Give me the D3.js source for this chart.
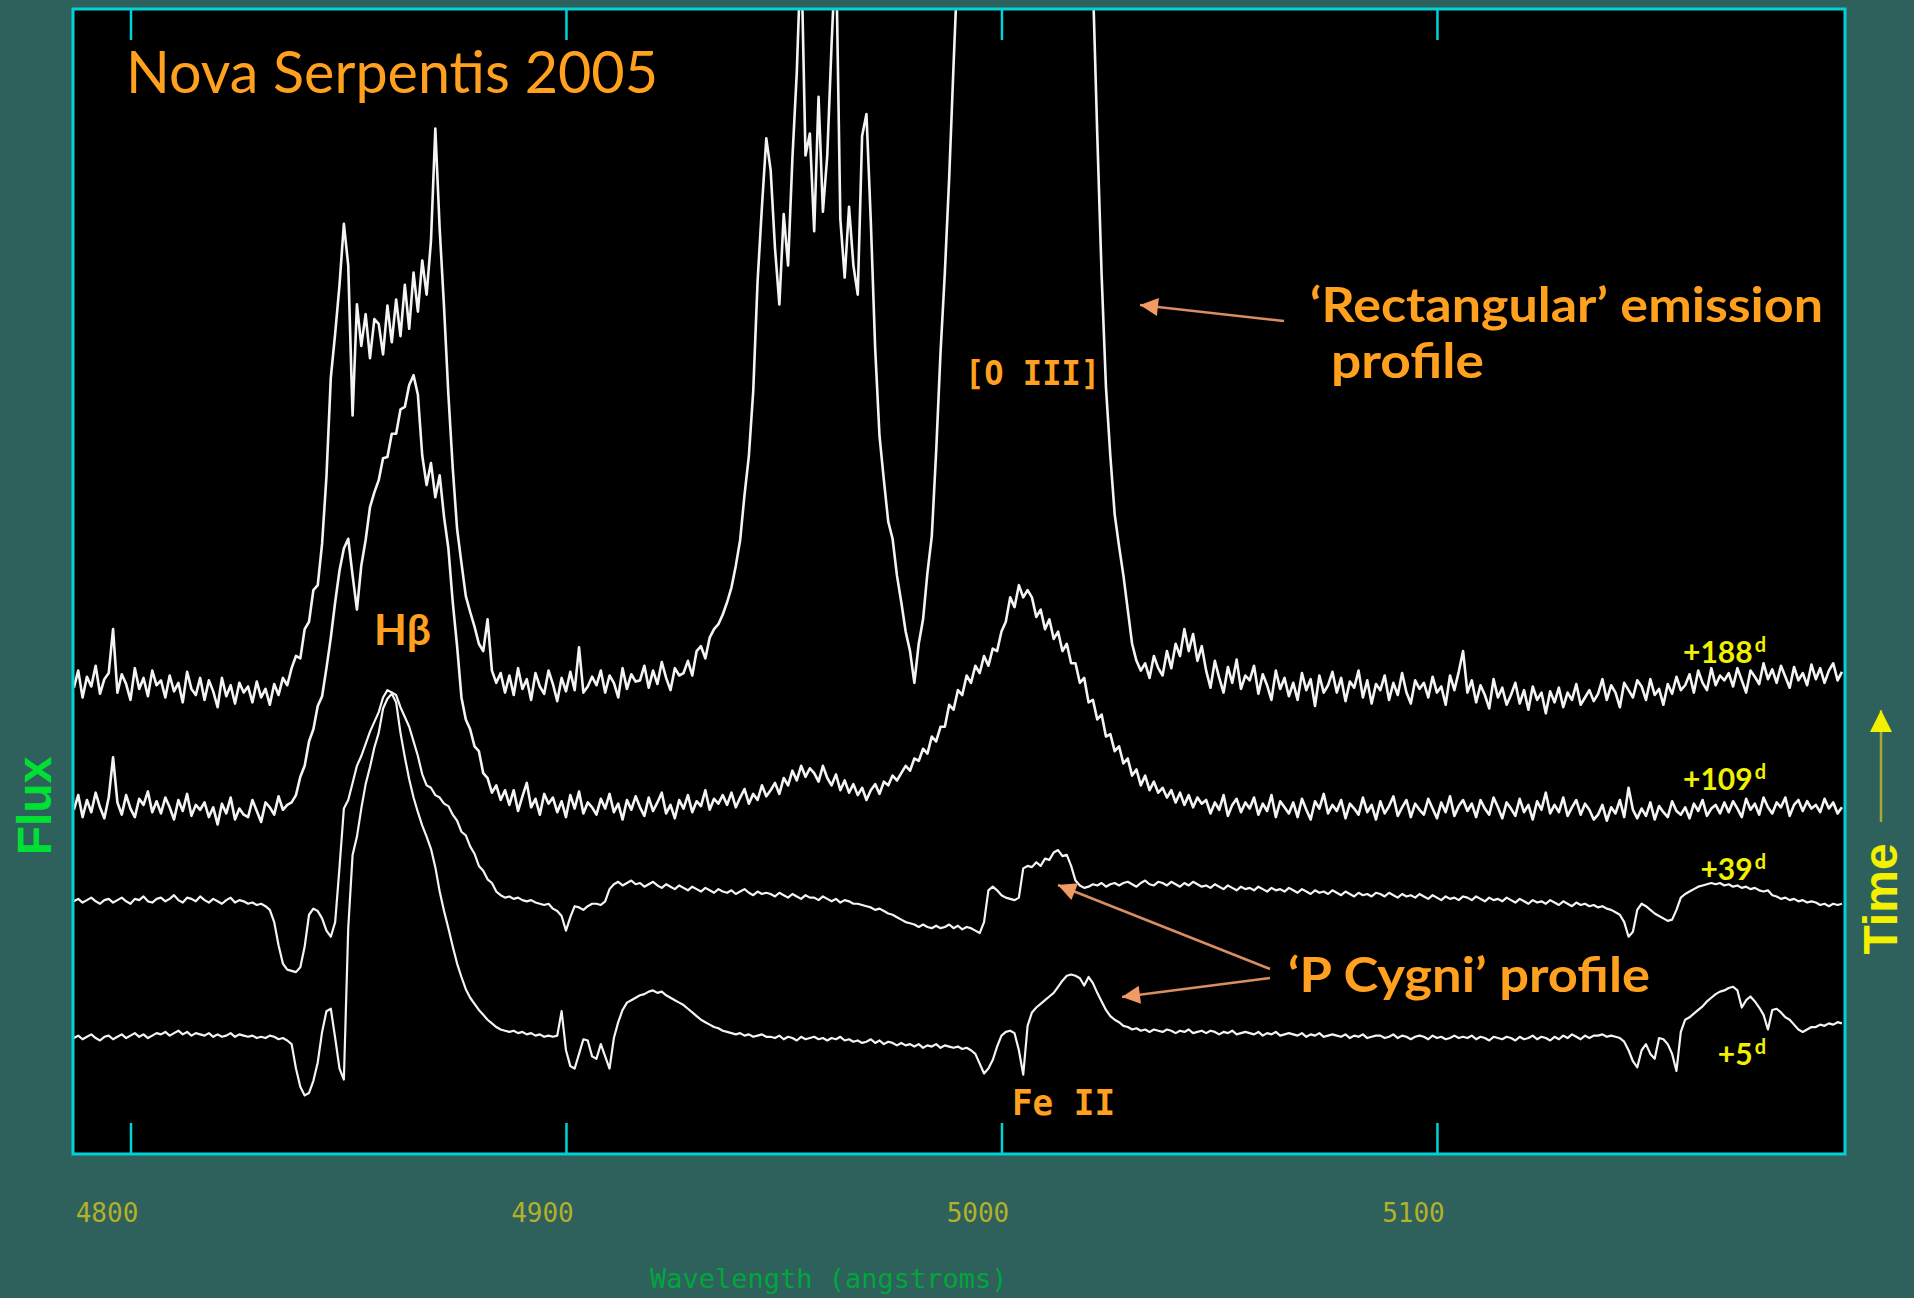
<!DOCTYPE html>
<html>
<head>
<meta charset="utf-8">
<script src="https://cdn.jsdelivr.net/npm/d3@7"></script>
<style>
  body { margin: 0; background: #2e615b; }
  svg { display: block; }
</style>
</head>
<body>
<script>
/*
 * Spectra of Nova Serpentis 2005, sampled every 1 Angstrom from 4787 A.
 * Flux in arbitrary units, each epoch already offset vertically.
 */
const wlStart = 4787, wlStep = 1;
const xTicks = [4800, 4900, 5000, 5100];
const epochs = ["+188", "+109", "+39", "+5"];

const flux188 = [
  382,396,374,391,383,400,377,389,394,430, 378,393,385,372,398,381,390,375,396,384,
  388,374,392,379,386,370,395,381,376,390, 372,388,379,366,390,375,384,369,386,378,
  383,370,387,374,381,368,385,376,390,384, 398,408,406,430,436,462,466,500,555,636,
  672,712,762,728,605,696,662,688,652,684, 680,655,695,665,700,670,712,676,722,690,
  732,704,748,840,758,694,622,562,512,484, 457,444,432,418,412,438,396,386,394,378,
  392,376,398,381,389,372,394,383,377,396, 385,371,390,379,395,380,415,378,383,391,
  384,396,378,392,386,374,398,381,393,387, 388,400,382,396,385,403,390,380,398,392,
  394,404,392,412,416,406,423,430,434,442, 452,464,482,503,540,572,625,715,776,832,
  806,742,696,770,728,816,886,990,818,836, 756,866,772,818,910,990,766,718,776,728,
  704,834,852,764,660,588,552,518,504,474, 452,428,412,386,418,438,476,506,575,656,
  722,800,892,980,1080,1150,1200,1240,1270,1300, 1320,1340,1350,1360,1380,1400,1420,1450,1480,1520,
  1550,1520,1480,1450,1420,1400,1370,1340,1310,1280, 1240,1180,1100,1020,960,835,720,628,572,524,
  498,474,446,418,404,396,402,390,408,398, 392,412,398,418,408,430,412,426,404,416,
  396,382,404,390,378,399,386,405,381,392, 388,400,377,393,384,372,396,381,390,375,
  386,372,394,380,389,367,392,378,384,395, 378,390,371,387,382,396,374,388,369,385,
  380,392,372,386,376,394,378,369,388,381, 386,374,391,378,383,368,392,380,395,412,
  378,388,370,384,376,365,389,374,382,368, 376,386,369,380,364,383,372,378,361,379,
  370,382,366,378,372,385,368,374,380,371, 377,389,372,384,378,366,386,380,374,388,
  383,372,389,376,381,368,385,377,391,380, 384,393,378,396,386,380,398,384,392,388,
  394,383,398,388,378,396,391,385,402,389, 397,386,400,391,382,399,388,394,384,401,
  389,398,386,396,402,388,395
];

const flux109 = [
  282,294,276,290,280,296,284,275,292,325, 288,278,294,283,276,291,286,297,280,289,
  279,292,284,274,290,281,295,277,286,282, 288,276,284,270,287,279,292,274,283,278,
  276,290,281,272,288,284,278,293,282,286, 288,294,309,318,338,348,367,375,398,423,
  452,478,496,504,474,446,482,503,530,542, 552,570,571,590,590,610,612,630,638,622,
  572,548,566,538,556,522,496,452,416,374, 356,348,334,330,312,308,296,302,290,298,
  286,298,281,293,304,284,291,278,295,287, 292,280,289,276,294,283,297,279,288,284,
  278,291,283,295,280,287,274,290,282,293, 284,277,292,281,288,296,279,286,275,290,
  283,294,280,289,285,298,282,291,287,294, 286,296,284,292,299,287,295,290,302,293,
  298,304,295,308,302,314,306,318,309,316, 312,305,318,308,302,311,298,306,296,303,
  294,300,290,298,303,295,305,302,310,306, 312,318,314,324,322,332,328,342,338,350,
  350,368,364,380,376,392,386,400,394,408, 400,414,412,428,436,456,448,466,456,462,
  456,440,446,430,438,422,428,412,418,402, 402,386,390,370,372,356,360,342,344,330,
  334,320,324,310,315,302,310,298,305,296, 300,292,298,288,296,286,294,284,292,287,
  290,279,288,282,294,277,286,291,280,288, 283,292,278,287,281,294,276,289,284,279,
  288,276,291,282,274,289,283,295,279,286, 281,290,275,287,283,278,292,280,286,274,
  289,279,285,293,277,284,290,276,287,282, 278,291,283,275,288,280,293,277,285,290,
  281,287,276,290,283,278,292,284,275,288, 283,277,291,280,286,274,289,282,296,279,
  286,280,292,277,284,290,278,287,282,274, 278,286,273,284,279,290,276,300,282,275,
  283,277,288,274,285,280,276,289,281,278, 284,275,287,281,290,277,283,286,279,288,
  280,289,283,276,291,282,287,278,292,284, 279,288,284,292,277,286,290,281,289,283,
  286,280,291,283,288,279,284
];

const flux39 = [
  207,209,206,208,210,207,205,208,209,206, 208,210,207,205,209,208,211,207,206,209,
  210,207,209,212,208,206,210,209,207,211, 208,206,209,207,205,208,210,206,208,207,
  205,206,204,205,203,200,190,171,156,151, 150,149,153,170,196,201,199,193,183,178,
  190,235,283,290,304,318,326,336,346,354, 362,374,380,378,376,366,358,350,338,326,
  311,302,300,294,292,287,285,278,273,264, 261,252,246,236,232,225,222,215,212,210,
  211,209,210,208,207,208,206,205,204,205, 201,199,195,183,194,203,202,200,203,205,
  205,204,207,217,221,223,220,222,224,221, 222,219,221,223,220,218,221,219,217,220,
  218,216,219,217,215,218,216,214,217,215, 214,216,213,215,217,214,212,215,213,214,
  213,211,214,212,210,213,211,209,212,210, 210,208,211,209,207,209,206,208,207,205,
  205,204,203,202,200,201,199,197,196,194, 192,190,189,188,186,188,186,185,187,185,
  186,188,185,187,184,186,185,183,181,190, 216,219,216,212,210,209,208,210,234,236,
  235,239,236,242,241,247,249,244,245,236, 224,220,218,219,221,220,222,219,221,222,
  220,222,223,221,219,222,224,221,220,223, 222,220,223,221,219,222,220,223,221,219,
  220,218,221,219,217,220,218,216,219,217, 218,216,219,217,215,218,216,217,215,218,
  216,214,217,215,213,216,214,215,213,216, 214,212,215,213,211,214,212,213,211,214,
  213,211,214,212,210,213,211,212,210,213, 211,209,212,210,208,211,209,210,208,211,
  210,208,211,209,207,210,208,209,207,210, 208,206,209,207,205,208,206,207,205,208,
  206,204,207,205,203,206,204,205,203,204, 202,203,201,200,198,196,190,178,182,200,
  205,203,200,197,195,193,191,192,200,210, 213,215,217,219,220,221,222,221,222,220,
  221,219,220,218,219,217,218,216,215,216, 212,211,209,210,208,209,207,208,206,207,
  206,204,205,203,205,204,205
];

const flux5 = [
  95,97,94,96,98,95,93,96,97,94, 96,98,95,97,99,96,98,95,97,99,
  98,100,97,99,101,98,100,97,99,98, 97,99,96,98,96,97,99,96,98,97,
  96,97,95,96,95,97,96,94,95,93, 90,70,55,48,50,60,75,100,117,119,
  95,70,61,185,245,260,283,303,317,333, 345,365,373,377,370,345,325,307,292,280,
  269,260,250,235,215,199,185,170,156,145, 135,128,123,118,114,110,107,104,102,101,
  100,101,99,100,98,99,97,98,96,97, 96,97,117,85,72,70,82,94,93,80,
  78,90,80,70,95,108,118,124,126,128, 130,131,133,134,132,133,130,128,126,124,
  122,119,116,113,110,108,106,104,103,101, 100,99,98,99,97,98,96,97,98,96,
  96,95,97,94,96,95,93,96,94,95, 96,94,95,93,95,94,96,93,94,92,
  93,91,92,94,91,93,90,92,91,89, 91,89,90,88,90,87,89,88,90,87,
  89,88,87,88,86,87,85,82,74,66, 70,77,88,97,100,101,99,85,65,105,
  116,120,123,126,129,132,137,142,146,147, 146,144,138,145,140,132,125,118,113,110,
  108,105,104,102,103,101,102,100,102,101, 100,102,101,99,101,100,102,99,100,101,
  99,101,100,98,100,99,101,98,99,100, 99,98,100,97,99,98,100,97,98,99,
  98,97,99,96,98,97,99,96,97,98, 97,96,98,95,97,96,98,95,96,97,
  97,95,96,98,95,97,96,94,96,97, 96,94,97,95,96,94,95,97,95,96,
  95,97,94,96,95,93,96,95,94,96, 95,93,96,94,95,97,94,96,95,93,
  96,94,97,95,98,96,94,97,95,97, 97,98,96,97,96,95,92,85,76,71,
  85,90,82,78,95,94,90,82,68,100, 110,112,115,118,121,125,128,131,133,134,
  136,137,134,120,126,129,125,120,114,102, 118,119,116,112,110,106,102,100,102,104,
  104,106,105,107,106,108,107
];

const spectra = [flux188, flux109, flux39, flux5];

/*
 * Layout
 */
const width = 1914, height = 1298;
const plot = {left: 73, right: 1845, top: 9, bottom: 1154};

const svg = d3.select("body").append("svg")
    .attr("width", width)
    .attr("height", height);

const x = d3.scaleLinear().domain([4786.8, 5193.7]).range([plot.left, plot.right]);
const y = d3.scaleLinear().domain([0, 938]).range([plot.bottom, plot.top]);

// black plotting area
svg.append("rect")
    .attr("x", plot.left).attr("y", plot.top)
    .attr("width", plot.right - plot.left)
    .attr("height", plot.bottom - plot.top)
    .attr("fill", "#000");

svg.append("clipPath").attr("id", "clip")
  .append("rect")
    .attr("x", plot.left).attr("y", plot.top)
    .attr("width", plot.right - plot.left)
    .attr("height", plot.bottom - plot.top);

// the spectra
const line = d3.line()
    .x((d, i) => x(wlStart + i * wlStep))
    .y(d => y(d));

svg.append("g")
    .attr("clip-path", "url(#clip)")
  .selectAll("path")
  .data(spectra)
  .join("path")
    .attr("d", line)
    .attr("fill", "none")
    .attr("stroke", "#f4f4f4")
    .attr("stroke-width", (d, i) => i < 2 ? 2.6 : 2.2)
    .attr("stroke-linejoin", "round");

// frame
svg.append("rect")
    .attr("x", plot.left).attr("y", plot.top)
    .attr("width", plot.right - plot.left)
    .attr("height", plot.bottom - plot.top)
    .attr("fill", "none")
    .attr("stroke", "#00d2d6")
    .attr("stroke-width", 3);

// axes: ticks pointing into the box
const bottomAxis = svg.append("g")
    .attr("transform", "translate(0," + plot.bottom + ")")
    .call(d3.axisBottom(x).tickValues(xTicks).tickSize(-31).tickPadding(50).tickFormat(d3.format("d")));
const topAxis = svg.append("g")
    .attr("transform", "translate(0," + plot.top + ")")
    .call(d3.axisTop(x).tickValues(xTicks).tickSize(-31).tickFormat(""));

[bottomAxis, topAxis].forEach(function(g) {
  g.select(".domain").remove();
  g.selectAll(".tick line").attr("stroke", "#00d2d6").attr("stroke-width", 2.5);
});
bottomAxis.selectAll(".tick text")
    .attr("dx", -24)
    .attr("fill", "#b3b02c")
    .style("font-family", "'DejaVu Sans Mono', monospace")
    .style("font-size", "26px");

svg.append("text")
    .attr("x", 650).attr("y", 1288)
    .attr("fill", "#00a63c")
    .style("font-family", "'DejaVu Sans Mono', monospace")
    .style("font-size", "27px")
    .text("Wavelength (angstroms)");

// side labels
svg.append("text")
    .attr("transform", "translate(51,806)rotate(-90)")
    .attr("text-anchor", "middle")
    .attr("fill", "#00e034")
    .style("font-family", "'Liberation Sans', Arial, sans-serif")
    .style("font-weight", "bold")
    .style("font-size", "48px")
    .text("Flux");

svg.append("text")
    .attr("transform", "translate(1897,899)rotate(-90)")
    .attr("text-anchor", "middle")
    .attr("fill", "#f2f200")
    .style("font-family", "'Liberation Sans', Arial, sans-serif")
    .style("font-weight", "bold")
    .style("font-size", "48px")
    .text("Time");

// arrow heads
const defs = svg.append("defs");
function head(id, color, w, h) {
  defs.append("marker")
      .attr("id", id)
      .attr("viewBox", "0 0 10 10")
      .attr("refX", 10).attr("refY", 5)
      .attr("markerUnits", "userSpaceOnUse")
      .attr("markerWidth", w).attr("markerHeight", h)
      .attr("orient", "auto")
    .append("path")
      .attr("d", "M0,0L10,5L0,10z")
      .attr("fill", color);
}
head("headOrange", "#f19a64", 24, 18);
head("headYellow", "#f2f200", 22, 22);

svg.append("line")
    .attr("x1", 1881).attr("y1", 822)
    .attr("x2", 1881).attr("y2", 710)
    .attr("stroke", "#a9a836").attr("stroke-width", 2.5)
    .attr("marker-end", "url(#headYellow)");

const arrows = [
  [1284, 321, 1140, 305],
  [1270, 969, 1058, 885],
  [1270, 978, 1122, 997]
];
svg.selectAll(".note-arrow")
  .data(arrows)
  .join("line")
    .attr("class", "note-arrow")
    .attr("x1", d => d[0]).attr("y1", d => d[1])
    .attr("x2", d => d[2]).attr("y2", d => d[3])
    .attr("stroke", "#d98d62")
    .attr("stroke-width", 2.5)
    .attr("marker-end", "url(#headOrange)");

// orange annotations
const orange = "#ffa01e";
const comic = "'Comic Sans MS', Lato, 'Liberation Sans', sans-serif";
function note(txt, px, py, size, len, family, weight) {
  svg.append("text")
      .attr("x", px).attr("y", py)
      .attr("fill", orange)
      .attr("textLength", len)
      .attr("lengthAdjust", "spacingAndGlyphs")
      .style("font-family", family)
      .style("font-weight", weight)
      .style("font-size", size + "px")
      .text(txt);
}
note("Nova Serpentis 2005", 126, 93, 58, 532, comic, "normal");
note("\u2018Rectangular\u2019 emission", 1310, 322, 47, 513, comic, "bold");
note("profile", 1331, 378, 47, 153, comic, "bold");
note("\u2018P Cygni\u2019 profile", 1288, 992, 47, 362, comic, "bold");
note("H\u03b2", 374, 645, 42, 57, comic, "bold");
note("[O III]", 965, 385, 34, 135, "'DejaVu Sans Mono', monospace", "bold");
note("Fe II", 1012, 1115, 36, 103, "'DejaVu Sans Mono', monospace", "bold");

// epoch labels, right aligned, with a superscript d
const epochBase = [663, 790, 880, 1065];
epochs.forEach(function(e, i) {
  const t = svg.append("text")
      .attr("x", 1766).attr("y", epochBase[i])
      .attr("text-anchor", "end")
      .attr("fill", "#f0f000")
      .style("font-family", comic)
      .style("font-weight", "bold")
      .style("font-size", "30px");
  t.append("tspan").text(e);
  t.append("tspan")
      .attr("dx", 2).attr("dy", -11)
      .style("font-size", "20px")
      .text("d");
});
</script>
</body>
</html>
